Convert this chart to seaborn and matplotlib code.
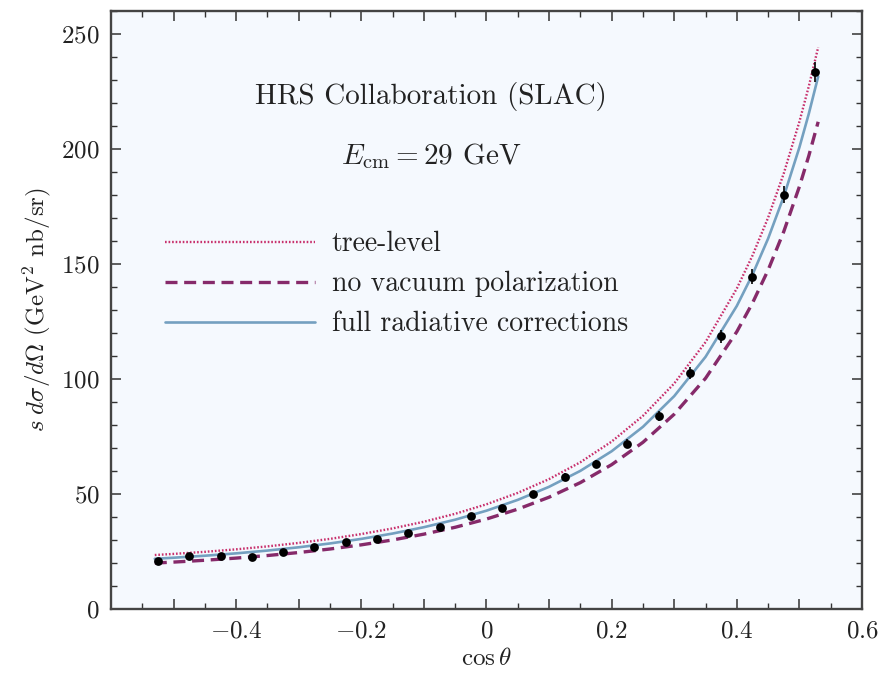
import numpy as np
import pandas as pd
import matplotlib
matplotlib.use("Agg")
import matplotlib.pyplot as plt
import seaborn as sns
from matplotlib.ticker import MultipleLocator, FuncFormatter

# ---- data ----
cos_data = [-0.525, -0.475, -0.425, -0.375, -0.325, -0.275, -0.225, -0.175, -0.125, -0.075,
            -0.025, 0.025, 0.075, 0.125, 0.175, 0.225, 0.275, 0.325, 0.375, 0.425, 0.475, 0.525]
xsec_data = [20.9, 23.1, 23.1, 22.8, 24.8, 27.1, 29.0, 30.4, 32.9, 35.5,
             40.4, 43.7, 50.0, 57.4, 63.2, 71.9, 84.0, 102.7, 118.6, 144.4, 180.1, 233.5]
xsec_err = [0.8, 0.9, 0.9, 0.9, 0.9, 1.0, 1.0, 1.1, 1.1, 1.2,
            1.3, 1.4, 1.5, 1.6, 1.7, 1.9, 2.1, 2.5, 2.8, 3.2, 3.8, 4.5]

cos_curve = [-0.53, -0.50, -0.45, -0.40, -0.35, -0.30, -0.25, -0.20, -0.15, -0.10, -0.05, 0.00,
             0.05, 0.10, 0.15, 0.20, 0.25, 0.30, 0.35, 0.40, 0.425, 0.45, 0.475, 0.50, 0.515, 0.53]
tree_level = [23.48, 23.96, 24.87, 25.95, 27.23, 28.74, 30.50, 32.59, 35.04, 37.95, 41.40, 45.53,
              50.49, 56.48, 63.80, 72.79, 83.98, 98.05, 116.02, 139.34, 153.64, 170.14, 189.35,
              211.85, 227.19, 244.20]
no_vac_pol = [19.98, 20.40, 21.20, 22.14, 23.25, 24.56, 26.09, 27.90, 30.02, 32.55, 35.54, 39.12,
              43.42, 48.61, 54.95, 62.76, 72.47, 84.69, 100.30, 120.56, 133.00, 147.35, 164.07,
              183.63, 196.99, 211.80]
full_rad = [21.84, 22.30, 23.17, 24.20, 25.41, 26.84, 28.51, 30.49, 32.81, 35.57, 38.84, 42.75,
            47.45, 53.13, 60.06, 68.59, 79.20, 92.56, 109.62, 131.76, 145.35, 161.04, 179.31,
            200.69, 215.29, 231.47]

labels = ["tree-level", "no vacuum polarization", "full radiative corrections"]
x_ticks = [-0.4, -0.2, 0, 0.2, 0.4, 0.6]
y_ticks = [0, 50, 100, 150, 200, 250]

# ---- style ----
sns.set_theme(style="ticks")
plt.rcParams.update({
    "font.family": ["cmr10", "DejaVu Serif"],
    "mathtext.fontset": "cm",
    "axes.formatter.use_mathtext": True,
    "axes.unicode_minus": True,
})

fig = plt.figure(figsize=(8.85, 6.82), dpi=100)
ax = fig.add_axes([0.1254, 0.107, 0.974 - 0.1254, 0.984 - 0.107])
ax.set_facecolor("#f5f9fe")

curves = pd.DataFrame({"c": cos_curve, "tree": tree_level, "novp": no_vac_pol, "full": full_rad})
sns.lineplot(data=curves, x="c", y="tree", ax=ax, color="#c8306c", lw=1.7,
             linestyle=(0, (0.7, 0.8)), label=labels[0])
sns.lineplot(data=curves, x="c", y="novp", ax=ax, color="#862a6a", lw=2.4,
             linestyle=(0, (3.6, 2.0)), label=labels[1])
sns.lineplot(data=curves, x="c", y="full", ax=ax, color="#74a0c0", lw=1.9,
             label=labels[2])

pts = pd.DataFrame({"c": cos_data, "s": xsec_data})
ax.errorbar(cos_data, xsec_data, yerr=xsec_err, fmt="none", ecolor="black", elinewidth=1.2, zorder=4)
sns.scatterplot(data=pts, x="c", y="s", ax=ax, color="black", s=40, edgecolor="black",
                linewidth=0, zorder=5)

ax.set_xlim(-0.6, 0.6)
ax.set_ylim(0, 260)
ax.xaxis.set_major_locator(MultipleLocator(0.1))
ax.xaxis.set_minor_locator(MultipleLocator(0.05))
ax.xaxis.set_major_formatter(FuncFormatter(
    lambda v, p: ("$%s$" % ("0" if abs(v) < 1e-9 else "%.1f" % v))
    if any(abs(v - t) < 1e-9 for t in x_ticks) else ""))
ax.set_yticks(y_ticks)
ax.yaxis.set_minor_locator(MultipleLocator(10))
ax.yaxis.set_major_formatter(FuncFormatter(lambda v, p: "$%d$" % v))

ax.tick_params(which="both", direction="in", top=True, right=True, colors="#333333",
               labelcolor="#222222", labelsize=18, pad=8)
ax.tick_params(which="major", length=7, width=1.1)
ax.tick_params(which="minor", length=4, width=1.0)
for s in ax.spines.values():
    s.set_linewidth(1.7)
    s.set_color("#444444")

ax.set_xlabel(r"$\cos\theta$", fontsize=18, color="#222222", labelpad=4)
ax.set_ylabel(r"$s\; d\sigma/d\Omega$ (GeV$^2$ nb/sr)", fontsize=18, color="#222222", labelpad=6)

ax.text(-0.088, 223, "HRS Collaboration (SLAC)", fontsize=21, ha="center", va="center",
        color="#222222")
ax.text(-0.088, 197, r"$E_{\rm cm} = 29$ GeV", fontsize=21, ha="center", va="center",
        color="#222222")

leg = ax.legend(loc="upper left", bbox_to_anchor=(0.072, 0.632), frameon=False, fontsize=20,
                handlelength=5.4, handletextpad=0.6, labelspacing=0.49,
                borderaxespad=0, borderpad=0)
for t in leg.get_texts():
    t.set_color("#222222")

fig.savefig("out.png", dpi=100, facecolor="white")
